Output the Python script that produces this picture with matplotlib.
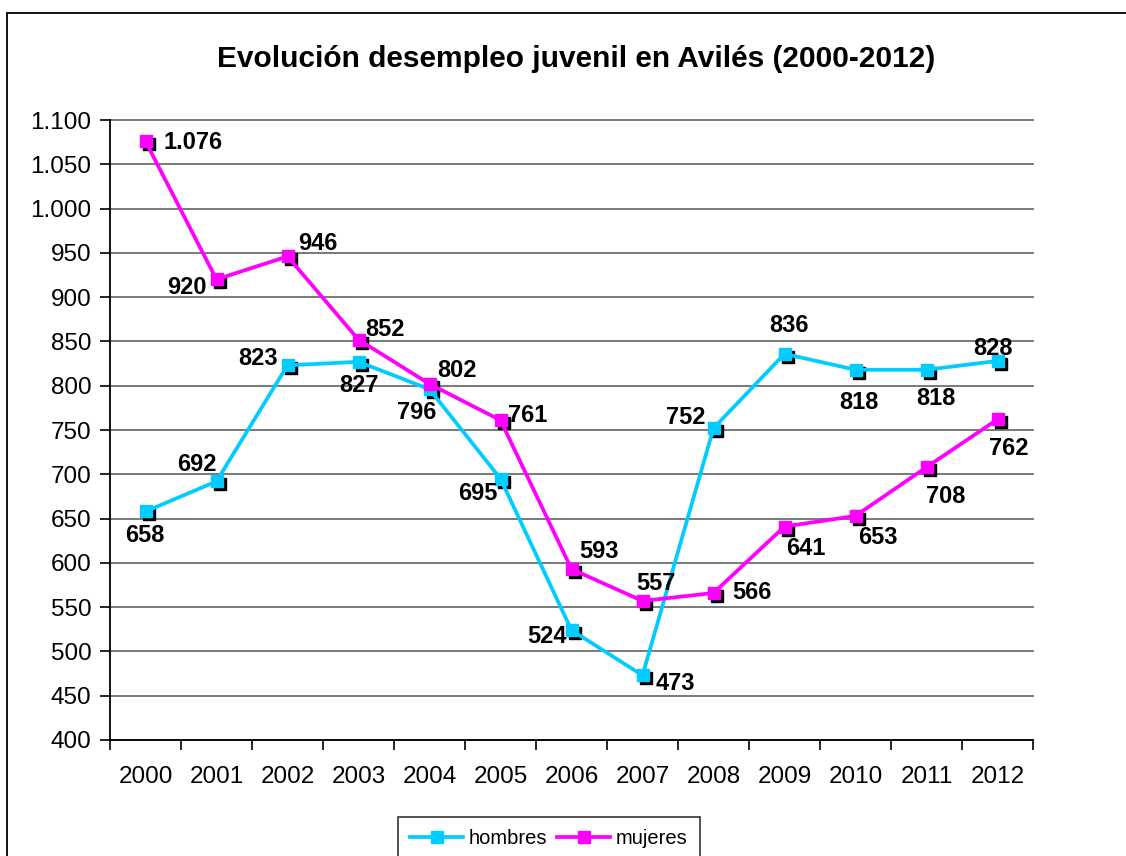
import matplotlib
matplotlib.use("Agg")
import matplotlib.pyplot as plt
from matplotlib.patches import Rectangle
from matplotlib.transforms import offset_copy

plt.rcParams['font.family'] = ['Liberation Sans', 'DejaVu Sans']

years = ["2000", "2001", "2002", "2003", "2004", "2005", "2006",
         "2007", "2008", "2009", "2010", "2011", "2012"]
hombres = [658, 692, 823, 827, 796, 695, 524, 473, 752, 836, 818, 818, 828]
mujeres = [1076, 920, 946, 852, 802, 761, 593, 557, 566, 641, 653, 708, 762]
yticks = list(range(400, 1101, 50))

# label offsets (pixels) relative to the point
off_h = [(-1, -24), (-20, 17), (-29, 7), (1, -24), (-13, -23), (-23, -15), (-25, -6),
         (33, -8), (-28, 11), (4, 28), (3, -33), (9, -29), (-4, 12)]
off_m = [(48, -1), (-30, -8), (30, 13), (27, 10), (28, 13), (27, 5), (28, 18),
         (13, 17), (38, 0), (21, -22), (22, -22), (19, -29), (11, -29)]

W, H = 1126, 856
fig = plt.figure(figsize=(W / 100, H / 100), dpi=100)
ax = fig.add_axes([110 / W, 1 - 740 / H, (1033 - 110) / W, (740 - 120) / H])

def fmt(v):
    return f"{v:,}".replace(",", ".")

x = list(range(len(years)))
cyan = "#00CCFF"
mag = "#FF00FF"

shadow_tr = offset_copy(ax.transData, fig=fig, x=3, y=-3, units='dots')
for vals, col, lab in [(hombres, cyan, "hombres"), (mujeres, mag, "mujeres")]:
    ax.plot(x, vals, linestyle='none', marker='s', ms=8, color='black',
            transform=shadow_tr, zorder=3, clip_on=False)
for vals, col, lab in [(hombres, cyan, "hombres"), (mujeres, mag, "mujeres")]:
    ax.plot(x, vals, color=col, lw=2.7, marker='s', ms=8, mec=col, mfc=col,
            label=lab, zorder=4, clip_on=False)

for vals, offs in [(hombres, off_h), (mujeres, off_m)]:
    for xi, v, (dx, dy) in zip(x, vals, offs):
        ax.annotate(fmt(v), (xi, v), xytext=(dx, dy), textcoords='offset pixels',
                    ha='center', va='center', fontsize=17, fontweight='bold',
                    color='black', zorder=5, annotation_clip=False)

ax.set_xlim(-0.5, len(years) - 0.5)
ax.set_ylim(400, 1100)
ax.set_yticks(yticks)
ax.set_yticklabels([fmt(v) for v in yticks])
ax.set_xticks(x)
ax.set_xticklabels(years)
ax.set_xticks([i - 0.5 for i in range(len(years) + 1)], minor=True)
ax.tick_params(axis='x', which='major', length=0, pad=19, labelsize=17.5)
ax.tick_params(axis='x', which='minor', length=7, width=1.2, direction='out')
ax.tick_params(axis='y', which='major', length=7, width=1.2, direction='out',
               pad=6.5, labelsize=17.5)

ax.grid(axis='y', color='#6e6e6e', lw=1.3)
ax.set_axisbelow(True)
for gl in ax.get_ygridlines():
    gl.set_clip_on(False)
for s in ['top', 'right']:
    ax.spines[s].set_visible(False)
for s in ['left', 'bottom']:
    ax.spines[s].set_linewidth(1.3)
    ax.spines[s].set_color('black')

fig.text(576 / W, 1 - 59 / H, "Evolución desempleo juvenil en Avilés (2000-2012)",
         ha='center', va='center', fontsize=21.5, fontweight='bold')

leg = fig.legend(loc='upper center', bbox_to_anchor=(549 / W, 1 - 817 / H),
                 ncol=2, frameon=True, fancybox=False, fontsize=14.5,
                 handlelength=2.6, columnspacing=0.5, handletextpad=0.3,
                 borderpad=0.6, borderaxespad=0)
leg.get_frame().set_edgecolor('black')
leg.get_frame().set_linewidth(1.2)

fig.add_artist(Rectangle((7 / W, -0.1), 1.2, 1.1 - 13 / H, transform=fig.transFigure,
                         fill=False, edgecolor='black', lw=1.3))

fig.savefig("out.png", dpi=100)
